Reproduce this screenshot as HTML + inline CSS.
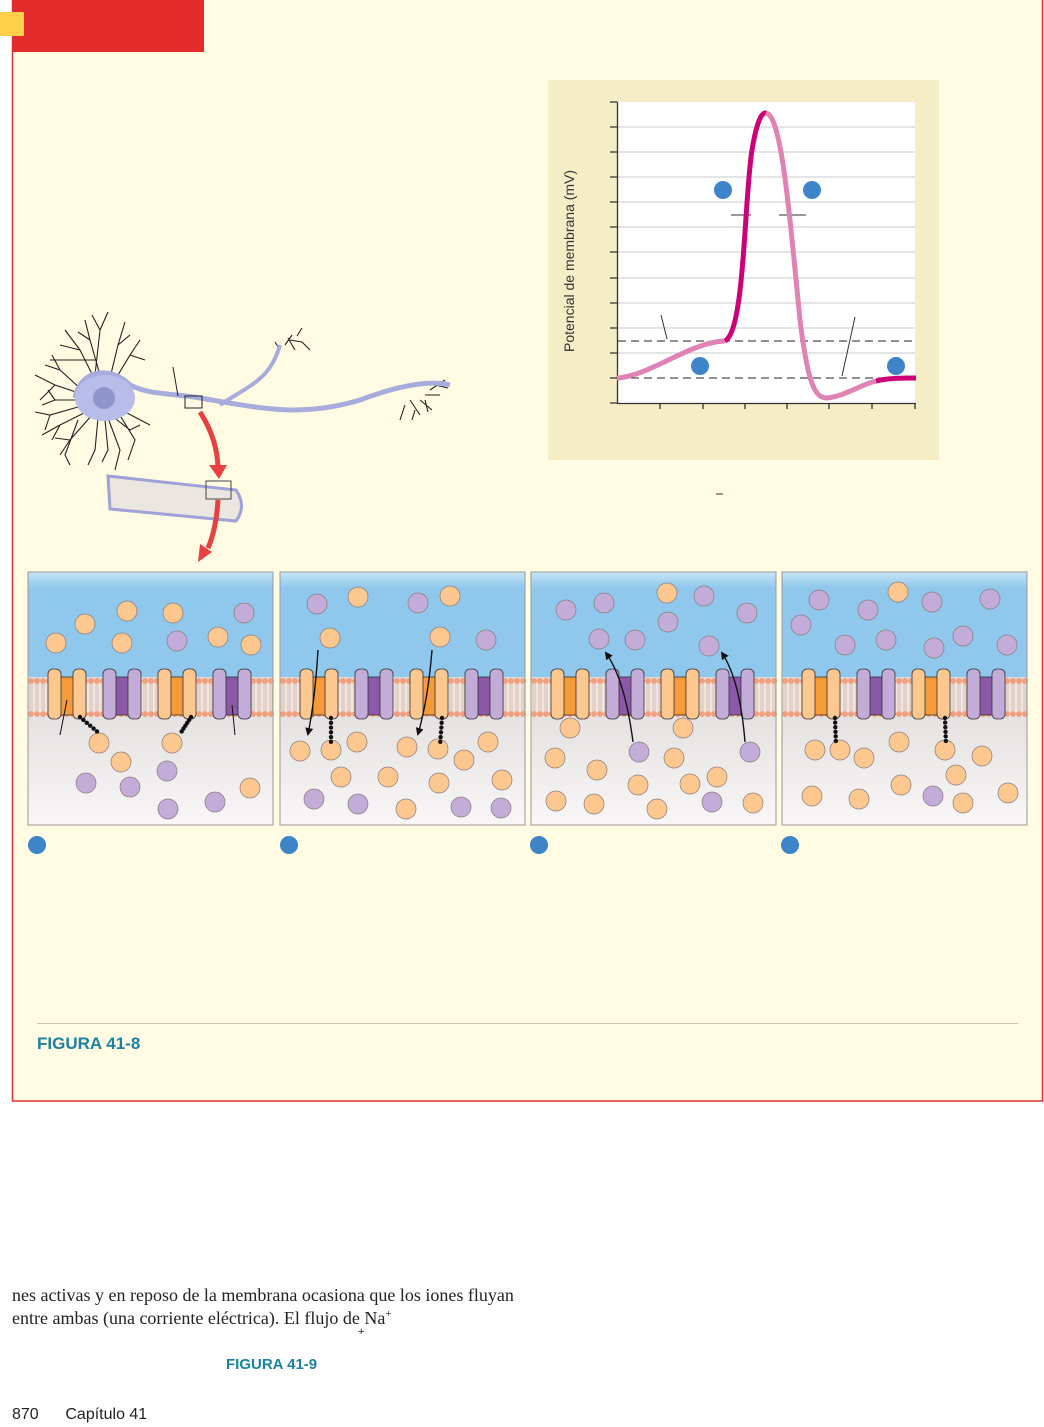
<!DOCTYPE html>
<html><head><meta charset="utf-8"><style>
html,body{margin:0;padding:0;background:#fff;}
body{width:1044px;height:1427px;position:relative;overflow:hidden;font-family:"Liberation Sans",sans-serif;}
.t{position:absolute;white-space:nowrap;}
</style></head><body>
<svg id="s" width="1044" height="1427" style="position:absolute;left:0;top:0">
<defs><marker id="ah" markerWidth="8" markerHeight="8" refX="6" refY="4" orient="auto" markerUnits="userSpaceOnUse"><path d="M0 0L8 4L0 8z" fill="#111"/></marker></defs>
<rect x="12.5" y="-2" width="1030" height="1103" fill="#fffce3" stroke="#e03030" stroke-width="1.5"/>
<rect x="12" y="0" width="192" height="52" fill="#e32d2d"/>
<rect x="0" y="12" width="24" height="24" fill="#ffd04a"/>
<rect x="548" y="80" width="391" height="380" fill="#f4edc6"/>
<rect x="618" y="102" width="297" height="301" fill="#fff"/>
<g stroke="#c8c8c8" stroke-width="1">
<line x1="618" x2="915" y1="127" y2="127"/><line x1="618" x2="915" y1="152" y2="152"/><line x1="618" x2="915" y1="177" y2="177"/><line x1="618" x2="915" y1="202" y2="202"/><line x1="618" x2="915" y1="227" y2="227"/><line x1="618" x2="915" y1="252" y2="252"/><line x1="618" x2="915" y1="278" y2="278"/><line x1="618" x2="915" y1="303" y2="303"/><line x1="618" x2="915" y1="328" y2="328"/><line x1="618" x2="915" y1="353" y2="353"/>
</g>
<g stroke="#222" stroke-width="1" stroke-dasharray="8,5"><line x1="618" x2="915" y1="341" y2="341"/><line x1="618" x2="915" y1="378" y2="378"/></g>
<g stroke="#333" stroke-width="1.3"><line x1="617.5" y1="102" x2="617.5" y2="404"/><line x1="617" y1="403.5" x2="916" y2="403.5"/>
<path d="M610 102h7M610 127h7M610 152h7M610 177h7M610 202h7M610 227h7M610 252h7M610 278h7M610 303h7M610 328h7M610 353h7M610 378h7M610 403h7M660 403v6M703 403v6M745 403v6M787 403v6M829 403v6M872 403v6M915 403v6"/>
<path d="M661 315l6 24M855 317l-13 59M731 215h20M779 215h27" stroke-width="1"/></g>
<path d="M617 378C650 376 690 342 725 341" stroke="#e083b4" stroke-width="5" fill="none"/>
<path d="M725 341C745 330 744 200 752 150C757 120 762 112 766 113" stroke="#cc0077" stroke-width="5" fill="none"/>
<path d="M766 113C782 115 790 220 800 320C808 385 815 398 827 398C845 396 860 385 876 381" stroke="#e083b4" stroke-width="5" fill="none"/>
<path d="M876 381C890 378 900 378 916 378" stroke="#cc0077" stroke-width="5" fill="none"/>
<g fill="#3d85c8"><circle cx="723" cy="190" r="9"/><circle cx="812" cy="190" r="9"/><circle cx="700" cy="366" r="9"/><circle cx="896" cy="366" r="9"/>
<circle cx="37" cy="845" r="9"/><circle cx="289" cy="845" r="9"/><circle cx="539" cy="845" r="9"/><circle cx="790" cy="845" r="9"/></g>
<text x="574" y="352" transform="rotate(-90 574 352)" font-size="14" fill="#333" font-family="Liberation Sans">Potencial de membrana (mV)</text>
<line x1="716" y1="494" x2="723" y2="494" stroke="#333"/>
<g fill="none" stroke="#222" stroke-width="1.1">
<path d="M95 380L80 350L65 330M80 350L60 345M95 375L100 330L92 315M100 330L108 312M110 378L118 345L125 322M118 345L130 335M85 395L55 385L35 375M55 385L40 400M85 405L50 415L35 412M50 415L45 430M92 415L70 440L60 455M98 418L95 450L88 465M108 418L120 450L115 470M118 412L135 440L128 460M70 440L55 438M95 360L70 360L50 360"/>
<path d="M100 375L90 340L85 320M90 340L78 332M115 380L130 355L140 340M130 355L145 360M82 390L60 370L45 365M60 370L52 355M80 400L55 400L42 405M55 400L48 390M86 412L60 425L42 435M60 425L52 440M105 420L108 450L102 462M112 416L130 430L140 425M78 420L65 455L70 465M125 412L150 425"/>
<path d="M285 345L292 335M290 340L302 342L310 350M297 336L302 328M280 350L275 342M288 338L295 350M430 390L445 380M420 400L432 410M425 395L440 395M405 405L400 420M415 410L412 420M435 385L448 388M410 400L420 415M425 400L428 412"/>
</g>
<path d="M75 398C80 370 110 365 130 385C150 395 170 393 200 398C260 408 300 418 360 400C400 385 430 380 450 385" fill="none" stroke="#a8acdc" stroke-width="5"/>
<path d="M220 405C250 385 270 380 280 345" fill="none" stroke="#a8acdc" stroke-width="4"/>
<ellipse cx="105" cy="398" rx="30" ry="23" fill="#b8bce8"/>
<circle cx="104" cy="398" r="11" fill="#9094cc"/>
<line x1="173" y1="367" x2="178" y2="396" stroke="#222"/>
<rect x="185" y="396" width="17" height="12" fill="none" stroke="#222"/>
<path d="M108 476L236 490Q247 506 236 521L110 509Z" fill="#ebe7e0" stroke="#9ea2d8" stroke-width="3"/>
<rect x="206" y="481" width="25" height="18" fill="none" stroke="#444"/>
<path d="M200 412Q218 440 218 470" stroke="#e84040" stroke-width="5" fill="none"/><path d="M209 465l10 14 8-14z" fill="#e84040"/>
<path d="M218 500Q216 530 208 548" stroke="#e84040" stroke-width="5" fill="none"/><path d="M200 544l-2 18 14-10z" fill="#e84040"/>
<line x1="37" y1="1023.5" x2="1018" y2="1023.5" stroke="#c8c4b0"/>
<g id="panels"></g>
</svg>
<div class="t" style="left:37px;top:1034px;font-size:17px;font-weight:bold;color:#1a82a0">FIGURA 41-8</div>
<div class="t" style="left:12px;top:1285px;font-size:18px;font-family:'Liberation Serif',serif;color:#222">nes activas y en reposo de la membrana ocasiona que los iones fluyan</div>
<div class="t" style="left:12px;top:1308px;font-size:18px;font-family:'Liberation Serif',serif;color:#222">entre ambas (una corriente eléctrica). El flujo de Na<sup style="font-size:11px">+</sup></div>
<div class="t" style="left:358px;top:1326px;font-size:11px;color:#222">+</div>
<div class="t" style="left:226px;top:1356px;font-size:15px;font-weight:bold;color:#1a82a0">FIGURA 41-9</div>
<div class="t" style="left:12px;top:1406px;font-size:16px;color:#222">870 &nbsp;&nbsp;&nbsp;&nbsp;&nbsp;Capítulo 41</div>
<script>
var g=document.getElementById('panels'),h='';
h+='<defs><linearGradient id="bl" x1="0" y1="0" x2="0" y2="1"><stop offset="0" stop-color="#c8e4f6"/><stop offset="0.15" stop-color="#8fc8ec"/><stop offset="1" stop-color="#8fc8ec"/></linearGradient><linearGradient id="gr" x1="0" y1="0" x2="0" y2="1"><stop offset="0" stop-color="#dedada"/><stop offset="1" stop-color="#f8f6f6"/></linearGradient></defs>';
var X=[28,280,531,782];
var O='#fdc890',P='#c4acd8';
var balls=[
[[85,624,O],[127,611,O],[173,613,O],[56,643,O],[122,643,O],[218,637,O],[251,645,O],[244,613,P],[177,641,P],[99,743,O],[121,762,O],[172,743,O],[250,788,O],[86,783,P],[130,787,P],[167,771,P],[168,809,P],[215,802,P]],
[[317,604,P],[418,603,P],[486,640,P],[358,597,O],[450,596,O],[330,638,O],[440,637,O],[300,751,O],[331,750,O],[357,742,O],[407,747,O],[438,749,O],[464,760,O],[488,742,O],[341,777,O],[388,777,O],[439,783,O],[502,780,O],[406,809,O],[314,799,P],[358,804,P],[461,807,P],[501,808,P]],
[[566,610,P],[604,603,P],[668,622,P],[704,596,P],[747,613,P],[599,639,P],[635,640,P],[709,646,P],[667,593,O],[570,728,O],[555,758,O],[597,770,O],[638,785,O],[674,758,O],[717,777,O],[690,784,O],[556,801,O],[594,804,O],[657,809,O],[753,803,O],[683,728,O],[639,752,P],[750,752,P],[712,802,P]],
[[819,600,P],[868,610,P],[932,602,P],[990,599,P],[801,625,P],[845,645,P],[886,640,P],[934,648,P],[963,636,P],[1007,645,P],[898,592,O],[815,750,O],[840,750,O],[864,758,O],[899,742,O],[945,750,O],[982,756,O],[956,775,O],[812,796,O],[859,799,O],[901,785,O],[963,803,O],[1008,793,O],[933,796,P]]];
for(var i=0;i<4;i++){var x=X[i];
h+='<rect x="'+x+'" y="572" width="245" height="105" fill="url(#bl)"/><rect x="'+x+'" y="677" width="245" height="148" fill="url(#gr)"/>';
h+='<rect x="'+x+'" y="679" width="245" height="38" fill="#f4e4dc"/>';
for(var k=0;k<245;k+=6){h+='<circle cx="'+(x+k+3)+'" cy="681" r="3" fill="#f0a080"/><circle cx="'+(x+k+3)+'" cy="714" r="3" fill="#f0a080"/><path d="M'+(x+k+2)+' 684v27M'+(x+k+4)+' 684v27" stroke="#b8a8a8" stroke-width=".6"/>';}
var cx=[20,75,130,185];
for(var c=0;c<4;c++){var a=x+cx[c],o=c%2==0,f=o?'#fdc890':'#c4acd8',m=o?'#f79a3a':'#8c58a8';
h+='<rect x="'+(a+10)+'" y="677" width="18" height="38" fill="'+m+'" stroke="#333" stroke-width=".8"/>';
h+='<rect x="'+a+'" y="669" width="13" height="50" rx="5" fill="'+f+'" stroke="#333" stroke-width=".8"/><rect x="'+(a+25)+'" y="669" width="13" height="50" rx="5" fill="'+f+'" stroke="#333" stroke-width=".8"/>';
}
h+='<rect x="'+x+'" y="572" width="245" height="253" fill="none" stroke="#999"/>';}
balls.forEach(function(p){p.forEach(function(b){h+='<circle cx="'+b[0]+'" cy="'+b[1]+'" r="10" fill="'+b[2]+'" stroke="#8a7a7a" stroke-width=".7"/>';});});
[[80,717,100,734],[191,717,180,734],[331,718,331,746],[442,718,440,746],[835,718,836,745],[945,718,946,745]].forEach(function(c){for(var t=0;t<=1;t+=0.17){h+='<circle cx="'+(c[0]+(c[2]-c[0])*t)+'" cy="'+(c[1]+(c[3]-c[1])*t)+'" r="2.2" fill="#111"/>';}});
h+='<g fill="none" stroke="#111" stroke-width="1.4" marker-end="url(#ah)"><path d="M318 650Q315 700 308 734"/><path d="M432 650Q428 700 418 734"/><path d="M633 742Q625 680 606 653"/><path d="M745 742Q740 680 722 653"/></g><path d="M67 700L60 735M232 705L235 735" stroke="#111" stroke-width="1"/>';
g.innerHTML=h;
</script>
</body></html>
